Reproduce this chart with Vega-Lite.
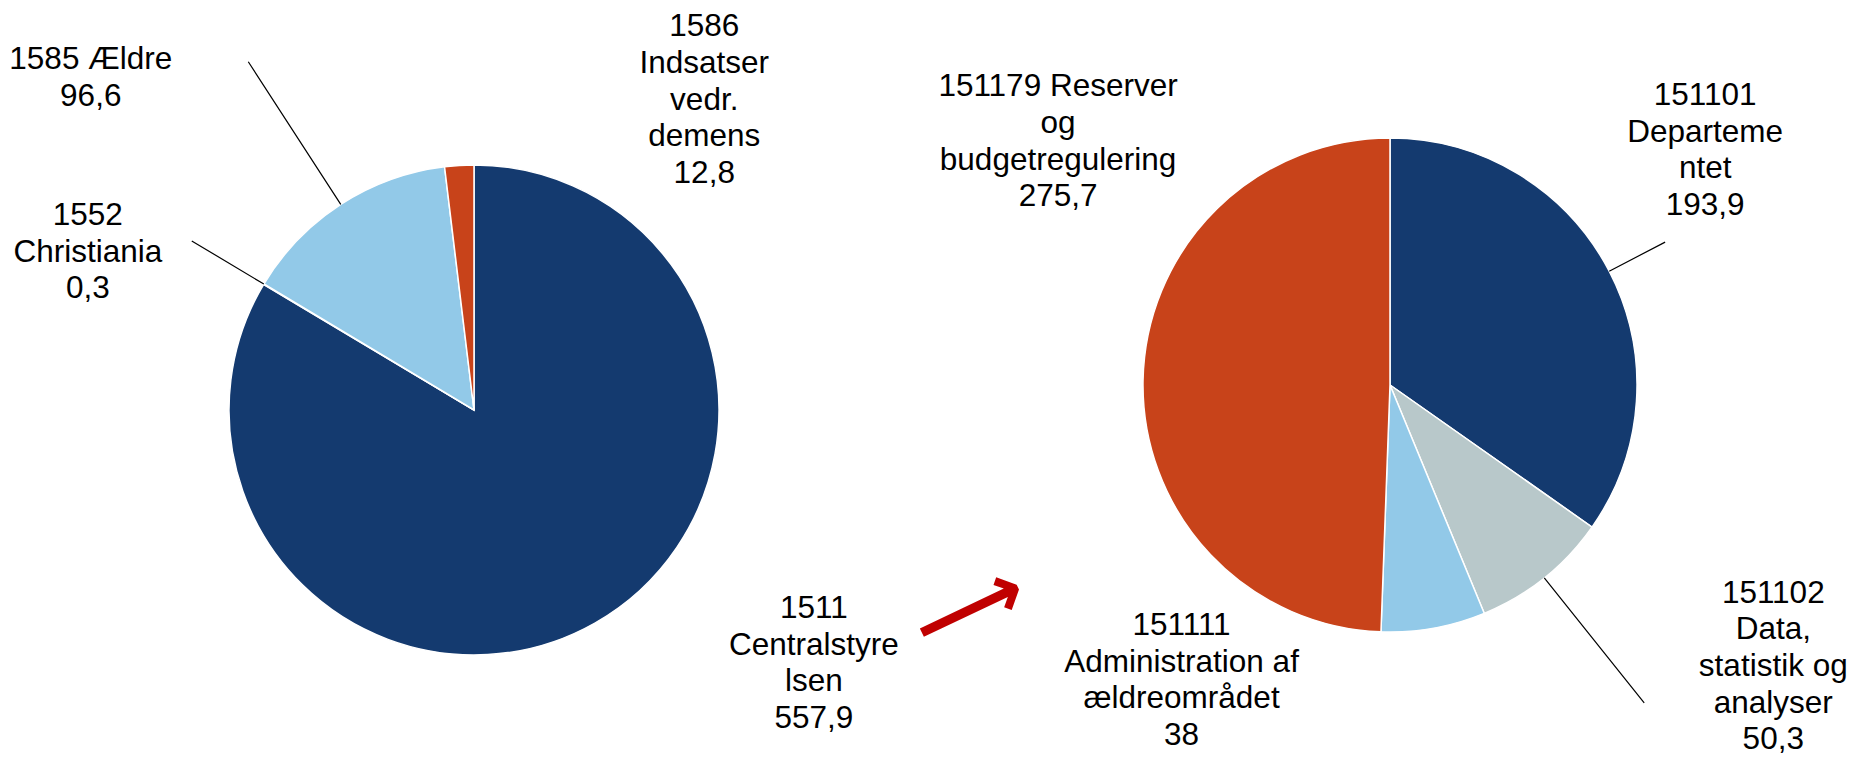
{
  "$schema": "https://vega.github.io/schema/vega-lite/v6.json",
  "width": 1853,
  "height": 721,
  "padding": {"top": 37, "left": 0, "right": 0, "bottom": 0},
  "autosize": {"type": "none"},
  "background": "white",
  "config": {"view": {"stroke": null}},
  "data": {
    "values": [
      {"pie": "A", "order": 1, "code": "1511", "name": "1511 Centralstyrelsen", "value": 557.9, "label": "1511\nCentralstyre\nlsen\n557,9"},
      {"pie": "A", "order": 2, "code": "1552", "name": "1552 Christiania", "value": 0.3, "label": "1552\nChristiania\n0,3"},
      {"pie": "A", "order": 3, "code": "1585", "name": "1585 Ældre", "value": 96.6, "label": "1585 Ældre\n96,6"},
      {"pie": "A", "order": 4, "code": "1586", "name": "1586 Indsatser vedr. demens", "value": 12.8, "label": "1586\nIndsatser\nvedr.\ndemens\n12,8"},
      {"pie": "B", "order": 1, "code": "151101", "name": "151101 Departementet", "value": 193.9, "label": "151101\nDeparteme\nntet\n193,9"},
      {"pie": "B", "order": 2, "code": "151102", "name": "151102 Data, statistik og analyser", "value": 50.3, "label": "151102\nData,\nstatistik og\nanalyser\n50,3"},
      {"pie": "B", "order": 3, "code": "151111", "name": "151111 Administration af ældreområdet", "value": 38, "label": "151111\nAdministration af\nældreområdet\n38"},
      {"pie": "B", "order": 4, "code": "151179", "name": "151179 Reserver og budgetregulering", "value": 275.7, "label": "151179 Reserver\nog\nbudgetregulering\n275,7"}
    ]
  },
  "encoding": {
    "x": {"field": "pie", "type": "nominal", "axis": null, "scale": {"type": "point", "domain": ["A", "B"], "padding": 0.511463, "align": 0.50587}},
    "theta": {"field": "value", "type": "quantitative", "stack": "normalize"},
    "order": {"field": "order", "type": "quantitative"}
  },
  "layer": [
    {
      "transform": [{"filter": "datum.pie === 'A'"}],
      "mark": {"type": "arc", "outerRadius": 245, "yOffset": 12.5, "stroke": "white", "strokeWidth": 1.5},
      "encoding": {"color": {"field": "order", "type": "nominal", "legend": null, "scale": {"domain": [1, 2, 3, 4], "range": ["#143A6F", "#B8C8CA", "#92C9E8", "#C8431A"]}}}
    },
    {
      "transform": [{"filter": "datum.pie === 'B'"}],
      "mark": {"type": "arc", "outerRadius": 247, "yOffset": -12.5, "stroke": "white", "strokeWidth": 1.5},
      "encoding": {"color": {"field": "order", "type": "nominal", "legend": null, "scale": {"domain": [1, 2, 3, 4], "range": ["#143A6F", "#B8C8CA", "#92C9E8", "#C8431A"]}}}
    },
    {
      "transform": [{"filter": "datum.pie === 'A'"}],
      "mark": {"type": "arc", "filled": false, "fill": null, "stroke": "black", "strokeWidth": 1.2, "padAngle": 3.14, "yOffset": 12.5, "innerRadius": 245, "outerRadius": {"expr": "datum.code === '1552' ? 329 : datum.code === '1585' ? 415 : 246"}},
      "encoding": {"strokeOpacity": {"condition": {"test": "datum.code === '1552' || datum.code === '1585'", "value": 1}, "value": 0}}
    },
    {
      "transform": [{"filter": "datum.pie === 'B'"}],
      "mark": {"type": "arc", "filled": false, "fill": null, "stroke": "black", "strokeWidth": 1.2, "padAngle": 3.14, "yOffset": -12.5, "innerRadius": 247, "outerRadius": {"expr": "datum.code === '151101' ? 310 : datum.code === '151102' ? 407 : 248"}},
      "encoding": {"strokeOpacity": {"condition": {"test": "datum.code === '151101' || datum.code === '151102'", "value": 1}, "value": 0}}
    },
    {
      "transform": [{"filter": "datum.pie === 'A'"}],
      "mark": {"type": "text", "radius": 245, "yOffset": 12.5, "lineBreak": "\n", "font": "Liberation Sans", "fontSize": 31.5, "lineHeight": 36.6, "align": "center", "baseline": "alphabetic", "color": "#000000",
        "dx": {"expr": "datum.code === '1511' ? 219 : datum.code === '1552' ? -176 : datum.code === '1585' ? -250 : 245"},
        "dy": {"expr": "datum.code === '1511' ? -5 : datum.code === '1552' ? -59 : datum.code === '1585' ? -135 : -129"}},
      "encoding": {"text": {"field": "label"}}
    },
    {
      "transform": [{"filter": "datum.pie === 'B'"}],
      "mark": {"type": "text", "radius": 247, "yOffset": -12.5, "lineBreak": "\n", "font": "Liberation Sans", "fontSize": 31.5, "lineHeight": 36.6, "align": "center", "baseline": "alphabetic", "color": "#000000",
        "dx": {"expr": "datum.code === '151101' ? 96 : datum.code === '151102' ? 229 : datum.code === '151111' ? -252 : -85"},
        "dy": {"expr": "datum.code === '151101' ? -166 : datum.code === '151102' ? 25 : datum.code === '151111' ? 7 : -284"}},
      "encoding": {"text": {"field": "label"}}
    },
    {
      "transform": [{"filter": "datum.pie === 'A'"}],
      "mark": {"type": "text", "radius": 245, "yOffset": 12.5, "font": "DejaVu Sans", "fontSize": 80, "fontWeight": "bold", "align": "center", "baseline": "middle", "color": "#C00000", "angle": 334.6, "dx": 344, "dy": 150},
      "encoding": {"text": {"condition": {"test": "datum.code === '1511'", "value": "⟶"}, "value": ""}}
    }
  ]
}
